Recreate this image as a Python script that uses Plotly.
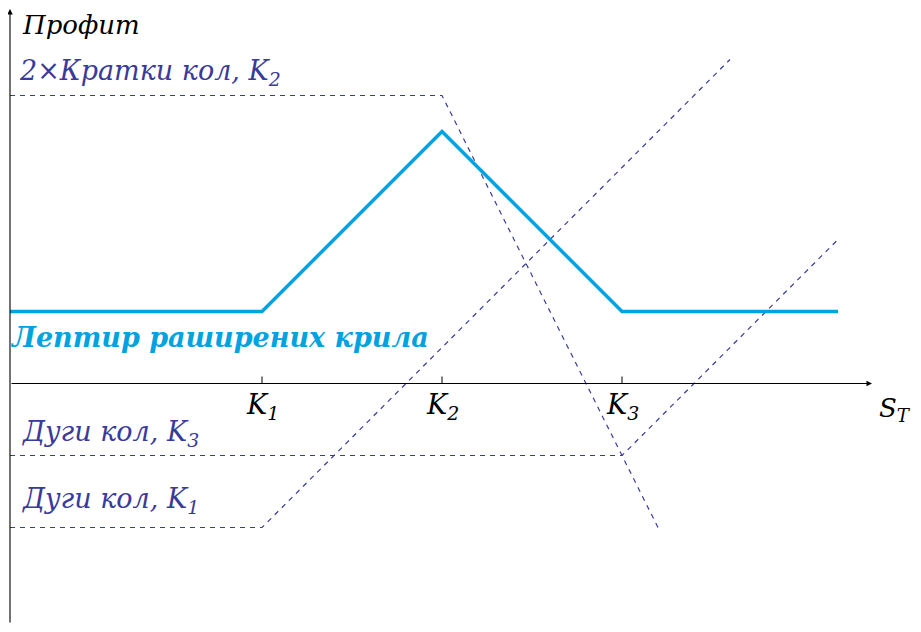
import plotly.graph_objects as go

# ---- data ----
strikes = [7, 12, 17]
strike_labels = ["K<sub>1</sub>", "K<sub>2</sub>", "K<sub>3</sub>"]

butterfly_x = [0, 7, 12, 17, 23]
butterfly_y = [2, 2, 7, 2, 2]

long_k1_x = [0, 7, 20]
long_k1_y = [-4, -4, 9]

long_k3_x = [0, 17, 23]
long_k3_y = [-2, -2, 4]

short_k2_x = [0, 12, 18]
short_k2_y = [8, 8, -4]

DARK = "#3a3a9a"
CYAN = "#00a3e0"
FONT = "DejaVu Serif"
FS = 27

# page body has an 8px margin: figure pixel = page pixel - 8
OFF = 8
W, H = 905, 616
PX = 36.0
X0 = 10 - OFF      # figure pixel of S=0
Y0 = 383.5 - OFF   # figure pixel of profit=0
x_range = [-X0 / PX, (W - X0) / PX]
y_range = [(Y0 - H) / PX, Y0 / PX]


def dx(px):
    return (px - OFF - X0) / PX


def dy(py):
    return (Y0 - (py - OFF)) / PX


fig = go.Figure()

dash = "5px,5px"
for xs, ys in [(long_k1_x, long_k1_y), (long_k3_x, long_k3_y), (short_k2_x, short_k2_y)]:
    fig.add_trace(go.Scatter(x=xs, y=ys, mode="lines",
                             line=dict(color=DARK, width=1.2, dash=dash),
                             hoverinfo="skip", showlegend=False))

fig.add_trace(go.Scatter(x=butterfly_x, y=butterfly_y, mode="lines",
                         line=dict(color=CYAN, width=3.5),
                         hoverinfo="skip", showlegend=False))

# axes with arrows
fig.add_annotation(x=dx(872), y=0, ax=0, ay=0, xref="x", yref="y", axref="x", ayref="y",
                   showarrow=True, arrowhead=2, arrowsize=1, arrowwidth=1.1,
                   arrowcolor="black", text="")
fig.add_annotation(x=0, y=dy(9), ax=0, ay=y_range[0], xref="x", yref="y", axref="x", ayref="y",
                   showarrow=True, arrowhead=2, arrowsize=1, arrowwidth=1.1,
                   arrowcolor="black", text="")

# ticks
for k, lab in zip(strikes, strike_labels):
    fig.add_shape(type="line", x0=k, x1=k, y0=0, y1=7 / PX, xref="x", yref="y",
                  line=dict(color="black", width=1))
    fig.add_annotation(x=k, y=dy(406), xref="x", yref="y", text="<i>" + lab + "</i>",
                       showarrow=False, xanchor="center", yanchor="middle",
                       font=dict(family=FONT, size=FS, color="black"))

fig.add_annotation(x=dx(913), y=dy(409), xref="x", yref="y",
                   text="<i>S<sub>T</sub></i>", showarrow=False,
                   xanchor="right", yanchor="middle",
                   font=dict(family=FONT, size=FS - 1, color="black"))

fig.add_annotation(x=dx(20), y=y_range[1], xref="x", yref="y",
                   text="<i>Профит</i>", showarrow=False,
                   xanchor="left", yanchor="top",
                   font=dict(family=FONT, size=FS - 1, color="black"))

fig.add_annotation(x=dx(17), y=dy(72), xref="x", yref="y",
                   text="<i>2×Кратки кол, K<sub>2</sub></i>", showarrow=False,
                   xanchor="left", yanchor="middle",
                   font=dict(family=FONT, size=FS, color=DARK))

fig.add_annotation(x=dx(8), y=dy(337), xref="x", yref="y",
                   text="<b><i>Лептир раширених крила</i></b>", showarrow=False,
                   xanchor="left", yanchor="middle",
                   font=dict(family=FONT, size=FS, color=CYAN))

fig.add_annotation(x=dx(20), y=dy(433), xref="x", yref="y",
                   text="<i>Дуги кол, K<sub>3</sub></i>", showarrow=False,
                   xanchor="left", yanchor="middle",
                   font=dict(family=FONT, size=FS, color=DARK))

fig.add_annotation(x=dx(20), y=dy(500), xref="x", yref="y",
                   text="<i>Дуги кол, K<sub>1</sub></i>", showarrow=False,
                   xanchor="left", yanchor="middle",
                   font=dict(family=FONT, size=FS, color=DARK))

fig.update_layout(
    width=W, height=H,
    margin=dict(l=0, r=0, t=0, b=0),
    paper_bgcolor="white", plot_bgcolor="white",
    xaxis=dict(range=x_range, visible=False, fixedrange=True),
    yaxis=dict(range=y_range, visible=False, fixedrange=True),
    showlegend=False,
)

fig.write_html("out.html")
